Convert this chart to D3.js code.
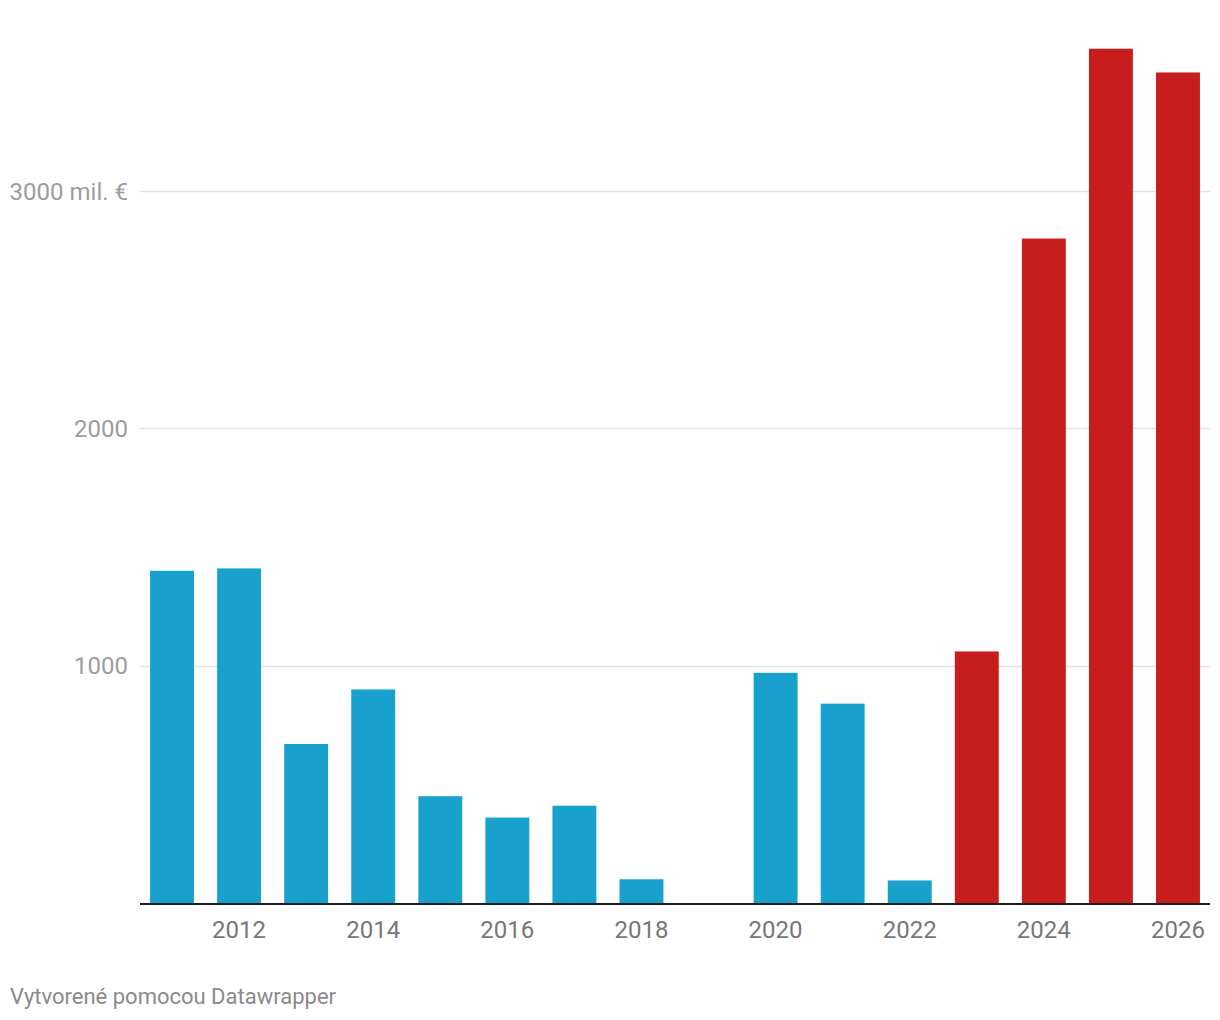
<!DOCTYPE html>
<html>
<head>
<meta charset="utf-8">
<script src="https://cdn.jsdelivr.net/npm/d3@7"></script>
<style>
  html, body { margin: 0; padding: 0; background: #fff; }
  svg { display: block; font-family: Roboto, "Noto Sans", sans-serif; }
</style>
</head>
<body>
<svg id="chart" width="1220" height="1020"></svg>
<script>
const years = [2011, 2012, 2013, 2014, 2015, 2016, 2017, 2018, 2019, 2020, 2021, 2022, 2023, 2024, 2025, 2026];
const values = [1400, 1410, 670, 900, 450, 360, 410, 100, null, 970, 840, 95, 1060, 2800, 3600, 3500];
const highlightYears = [2023, 2024, 2025, 2026];
const yTicks = [1000, 2000, 3000];
const xTickLabels = [2012, 2014, 2016, 2018, 2020, 2022, 2024, 2026];
const footer = "Vytvorené pomocou Datawrapper";

const blue = "#18a1cd", red = "#c71e1d";
const svg = d3.select("#chart");

const x = d3.scaleBand()
  .domain(years)
  .range([140, 1210])
  .paddingInner(0.345)
  .paddingOuter(0.15);

const y = d3.scaleLinear().domain([0, 1000]).range([903, 665.7]);

// gridlines
svg.append("g")
  .selectAll("line")
  .data(yTicks)
  .join("line")
  .attr("x1", 140).attr("x2", 1210)
  .attr("y1", d => Math.round(y(d)) + 0.5).attr("y2", d => Math.round(y(d)) + 0.5)
  .attr("stroke", "#e3e3e3").attr("stroke-width", 1.5);

// y labels
svg.append("g")
  .selectAll("text")
  .data(yTicks)
  .join("text")
  .attr("x", 128)
  .attr("y", d => y(d))
  .attr("dy", "0.35em")
  .attr("text-anchor", "end")
  .attr("fill", "#9d9d9d")
  .style("font-size", "24px")
  .text(d => d === 3000 ? d + " mil. €" : d);

// bars
const data = years.map((yr, i) => ({ year: yr, value: values[i] })).filter(d => d.value != null);
svg.append("g")
  .selectAll("rect")
  .data(data)
  .join("rect")
  .attr("x", d => x(d.year))
  .attr("width", x.bandwidth())
  .attr("y", d => y(d.value))
  .attr("height", d => y(0) - y(d.value))
  .attr("fill", d => highlightYears.includes(d.year) ? red : blue);

// baseline
svg.append("line")
  .attr("x1", 140).attr("x2", 1210)
  .attr("y1", y(0) + 1).attr("y2", y(0) + 1)
  .attr("stroke", "#1d1d1d").attr("stroke-width", 2);

// x labels
svg.append("g")
  .selectAll("text")
  .data(xTickLabels)
  .join("text")
  .attr("x", d => x(d) + x.bandwidth() / 2)
  .attr("y", 938)
  .attr("text-anchor", "middle")
  .attr("fill", "#777777")
  .style("font-size", "24px")
  .text(d => d);

// footer
svg.append("text")
  .attr("x", 10)
  .attr("y", 1004)
  .attr("fill", "#8a8a8a")
  .style("font-size", "22px")
  .text(footer);
</script>
</body>
</html>
